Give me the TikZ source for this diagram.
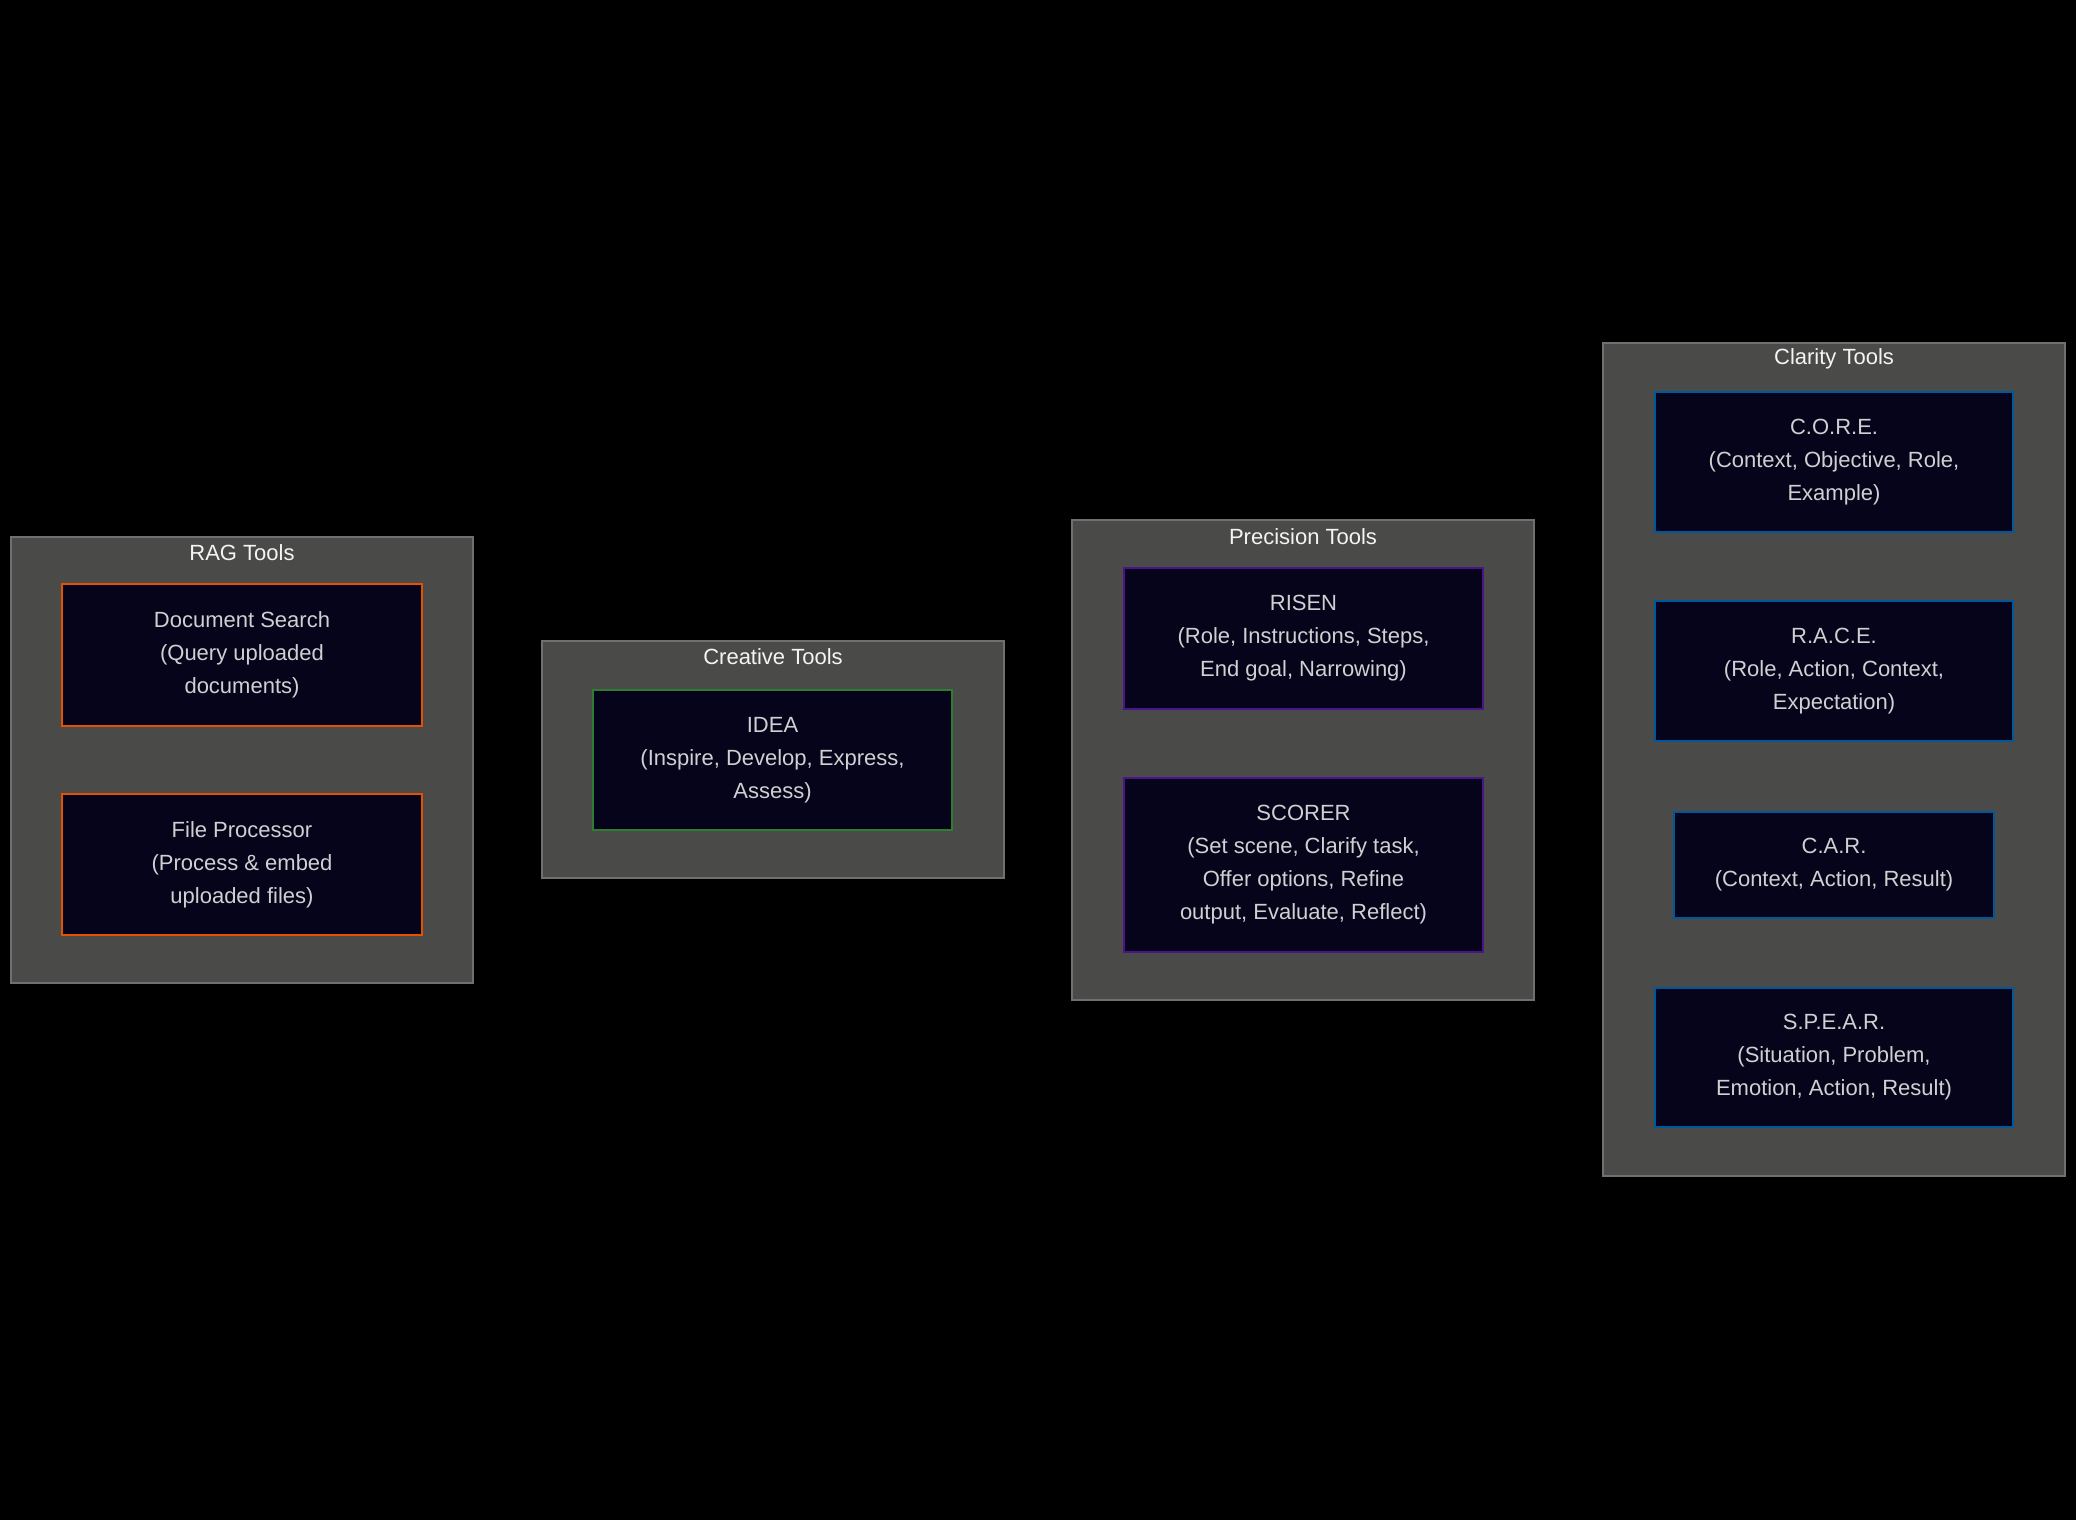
\documentclass[tikz,border=0pt]{standalone}
\usepackage{fontspec}
\setmainfont{Liberation Sans}
\definecolor{groupfill}{RGB}{74,74,73}
\definecolor{groupline}{RGB}{112,112,112}
\definecolor{cardfill}{RGB}{5,4,26}
\definecolor{cardtext}{RGB}{208,208,210}
\definecolor{titletext}{RGB}{244,244,244}
\definecolor{ragline}{RGB}{230,81,0}
\definecolor{creativeline}{RGB}{46,125,50}
\definecolor{precisionline}{RGB}{74,20,140}
\definecolor{clarityline}{RGB}{1,87,155}
\tikzset{
  sz/.style n args={2}{minimum width=#1*0.5pt, minimum height=#2*0.5pt},
  group/.style={draw=groupline, fill=groupfill, line width=0.7pt, inner sep=0pt},
  grouptitle/.style={text=titletext, inner sep=0pt,
    font=\fontsize{11}{13}\selectfont},
  card/.style={draw=#1, fill=cardfill, line width=1.4pt, inner sep=0pt,
    text=cardtext, align=center, font=\fontsize{11}{16.5}\selectfont},
}
\begin{document}
\begin{tikzpicture}[x=0.5pt, y=-0.5pt]
  \path[fill=black, use as bounding box] (0,0) rectangle (2076,1520);

  % RAG tools
  \node[group, sz={462}{446}] (rag) at (242,760) {};
  \node[grouptitle] (ragtitle) at (242,553) {RAG Tools};
  \node[card=ragline, sz={360}{142}] (docsearch) at (242,655)
    {Document Search\\(Query uploaded\\documents)};
  \node[card=ragline, sz={360}{141}] (fileproc) at (242,864.5)
    {File Processor\\(Process \& embed\\uploaded files)};

  % Creative tools
  \node[group, sz={462}{237}] (creative) at (773,759.5) {};
  \node[grouptitle] (creativetitle) at (773,657) {Creative Tools};
  \node[card=creativeline, sz={359}{140}] (idea) at (772.5,760)
    {IDEA\\(Inspire, Develop, Express,\\Assess)};

  % Precision tools
  \node[group, sz={462}{480}] (precision) at (1303,760) {};
  \node[grouptitle] (precisiontitle) at (1303,537) {Precision Tools};
  \node[card=precisionline, sz={359}{141}] (risen) at (1303.5,638.5)
    {RISEN\\(Role, Instructions, Steps,\\End goal, Narrowing)};
  \node[card=precisionline, sz={359}{174}] (scorer) at (1303.5,865)
    {SCORER\\(Set scene, Clarify task,\\Offer options, Refine\\output, Evaluate, Reflect)};

  % Clarity tools
  \node[group, sz={462}{833}] (clarity) at (1834,759.5) {};
  \node[grouptitle] (claritytitle) at (1834,359) {Clarity Tools};
  \node[card=clarityline, sz={358}{140}] (core) at (1834,462)
    {C.O.R.E.\\(Context, Objective, Role,\\Example)};
  \node[card=clarityline, sz={358}{140}] (race) at (1834,671)
    {R.A.C.E.\\(Role, Action, Context,\\Expectation)};
  \node[card=clarityline, sz={320}{106}] (car) at (1834,865)
    {C.A.R.\\(Context, Action, Result)};
  \node[card=clarityline, sz={358}{139}] (spear) at (1834,1057.5)
    {S.P.E.A.R.\\(Situation, Problem,\\Emotion, Action, Result)};
\end{tikzpicture}
\end{document}
